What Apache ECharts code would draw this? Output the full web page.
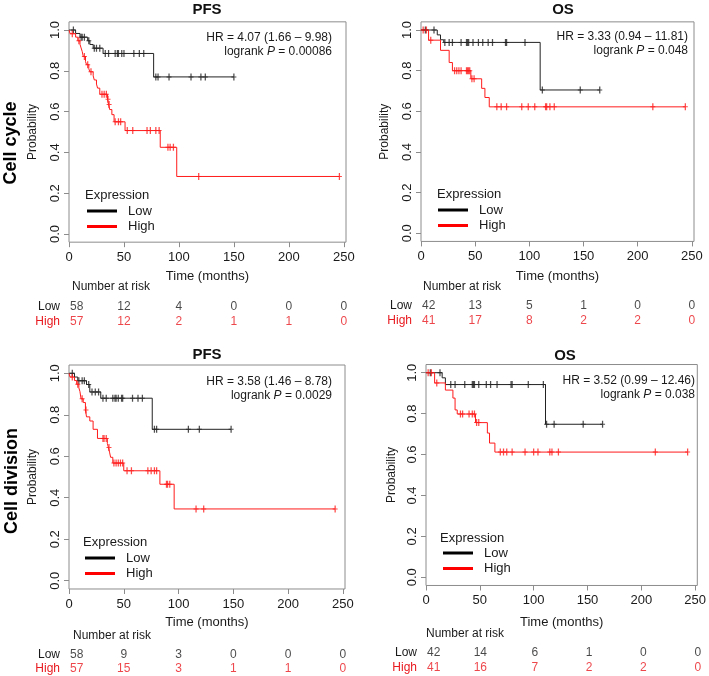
<!DOCTYPE html>
<html><head><meta charset="utf-8">
<script src="https://cdn.jsdelivr.net/npm/echarts@6/dist/echarts.min.js"></script>
<style>html,body{margin:0;padding:0;background:#fff}#c{width:709px;height:676px}</style>
</head><body><div id="c"></div>
<script>
// ---------------- DATA ----------------
const xTicks = [0, 50, 100, 150, 200, 250];
const yTicks = [0, 0.2, 0.4, 0.6, 0.8, 1.0];
const riskTimes = [0, 50, 100, 150, 200, 250];
const rowLabels = ['Cell cycle', 'Cell division'];
const panelTitles = ['PFS', 'OS', 'PFS', 'OS'];
const hrTexts = ['HR = 4.07 (1.66 \u2013 9.98)', 'HR = 3.33 (0.94 \u2013 11.81)', 'HR = 3.58 (1.46 \u2013 8.78)', 'HR = 3.52 (0.99 \u2013 12.46)'];
const pTexts = ['0.00086', '0.048', '0.0029', '0.038'];

// Panel 1: Cell cycle PFS
const lowSteps1 = [[0,1],[6,0.983],[10,0.965],[17,0.947],[19,0.929],[22,0.911],[31,0.885],[77,0.77],[150,0.77]];
const lowCens1 = [[4,1],[11,0.965],[12,0.965],[14,0.965],[18,0.947],[23,0.911],[25,0.911],[28,0.911],[33,0.885],[36,0.885],[42,0.885],[44,0.885],[45,0.885],[48,0.885],[50,0.885],[59,0.885],[64,0.885],[68,0.885],[79,0.77],[81,0.77],[91,0.77],[111,0.77],[120,0.77],[124,0.77],[150,0.77]];
const highSteps1 = [[0,1],[1,0.982],[6,0.965],[8,0.947],[10,0.93],[11,0.912],[12,0.895],[13,0.87],[15,0.845],[16,0.83],[18,0.81],[19,0.795],[22,0.775],[23,0.755],[25,0.735],[26,0.715],[28,0.685],[35,0.66],[36,0.635],[37,0.61],[39,0.585],[41,0.55],[51,0.507],[83,0.425],[98,0.282],[246,0.282]];
const highCens1 = [[3,0.982],[9,0.947],[14,0.87],[17,0.83],[20,0.795],[30,0.685],[32,0.685],[34,0.685],[35.5,0.66],[36.5,0.635],[42,0.55],[45,0.55],[47,0.55],[53,0.507],[58,0.507],[71,0.507],[74,0.507],[79,0.507],[82,0.507],[90,0.425],[92,0.425],[95,0.425],[118,0.282],[246,0.282]];
const riskLow1 = [58, 12, 4, 0, 0, 0];
const riskHigh1 = [57, 12, 2, 1, 1, 0];

// Panel 2: Cell cycle OS
const lowSteps2 = [[0,1],[15,0.976],[18,0.952],[21,0.939],[110,0.705],[165,0.705]];
const lowCens2 = [[4,1],[12,1],[22,0.939],[26,0.939],[29,0.939],[37,0.939],[42,0.939],[43,0.939],[44,0.939],[48,0.939],[53,0.939],[57,0.939],[62,0.939],[66,0.939],[78,0.939],[79,0.939],[96,0.939],[112,0.705],[147,0.705],[165,0.705]];
const highSteps2 = [[0,1],[7,0.95],[18,0.9],[26,0.84],[29,0.8],[46,0.76],[56,0.713],[59,0.668],[63,0.622],[244,0.622]];
const highCens2 = [[2,1],[5,1],[9,0.95],[31,0.8],[33,0.8],[35,0.8],[37,0.8],[42,0.8],[43,0.8],[44,0.8],[45,0.8],[47,0.76],[49,0.76],[70,0.622],[74,0.622],[79,0.622],[93,0.622],[99,0.622],[105,0.622],[115,0.622],[116,0.622],[119,0.622],[123,0.622],[214,0.622],[244,0.622]];
const riskLow2 = [42, 13, 5, 1, 0, 0];
const riskHigh2 = [41, 17, 8, 2, 2, 0];

// Panel 3: Cell division PFS
const lowSteps3 = [[0,1],[5,0.982],[8,0.964],[16,0.946],[19,0.91],[29,0.88],[76,0.73],[148,0.73]];
const lowCens3 = [[3,1],[9,0.964],[12,0.964],[14,0.964],[18,0.946],[21,0.91],[24,0.91],[27,0.91],[31,0.88],[34,0.88],[40,0.88],[42,0.88],[43,0.88],[45,0.88],[48,0.88],[49,0.88],[58,0.88],[63,0.88],[67,0.88],[78,0.73],[80,0.73],[109,0.73],[119,0.73],[148,0.73]];
const highSteps3 = [[0,1],[1,0.982],[5,0.965],[7,0.947],[9,0.93],[10,0.912],[11,0.877],[13,0.859],[15,0.823],[16,0.79],[19,0.77],[22,0.73],[26,0.686],[35,0.662],[36,0.642],[37,0.62],[38,0.595],[40,0.567],[50,0.53],[83,0.465],[96,0.346],[243,0.346]];
const highCens3 = [[3,0.982],[8,0.947],[12,0.877],[15.5,0.823],[31,0.686],[32,0.686],[34,0.686],[36.5,0.642],[41,0.567],[43,0.567],[45,0.567],[47,0.567],[49,0.567],[53,0.53],[57,0.53],[72,0.53],[75,0.53],[78,0.53],[80,0.53],[89,0.465],[90,0.465],[92,0.465],[116,0.346],[123,0.346],[243,0.346]];
const riskLow3 = [58, 9, 3, 0, 0, 0];
const riskHigh3 = [57, 15, 3, 1, 1, 0];

// Panel 4: Cell division OS
const lowSteps4 = [[0,1],[15,0.975],[18,0.942],[111,0.748],[164,0.748]];
const lowCens4 = [[4,1],[13,1],[23,0.942],[27,0.942],[36,0.942],[43,0.942],[44,0.942],[45,0.942],[49,0.942],[56,0.942],[60,0.942],[66,0.942],[79,0.942],[80,0.942],[95,0.942],[109,0.942],[112,0.748],[119,0.748],[146,0.748],[164,0.748]];
const highSteps4 = [[0,1],[8,0.95],[18,0.915],[25,0.876],[27,0.818],[29,0.798],[46,0.756],[57,0.705],[59,0.656],[64,0.612],[243,0.612]];
const highCens4 = [[2,1],[5,1],[10,0.95],[32,0.798],[34,0.798],[40,0.798],[43,0.798],[45,0.798],[47,0.756],[49,0.756],[69,0.612],[72,0.612],[75,0.612],[80,0.612],[92,0.612],[100,0.612],[104,0.612],[115,0.612],[117,0.612],[123,0.612],[213,0.612],[243,0.612]];
const riskLow4 = [42, 14, 6, 1, 0, 0];
const riskHigh4 = [41, 16, 7, 2, 2, 0];

// ---------------- LAYOUT / STYLE ----------------
const FONT = '"Liberation Sans", Arial, Helvetica, sans-serif';
const XMAX = 252;
const BLACK = '#222';
const RED = '#ff1a1a';
const RED_TXT = '#e8191f';
const TXT = '#1a1a1a';
const BOX = '#8c8c8c';
const PLUS = 'path://M2,0H3V3H4.5V4H3V7H2V4H0.5V3H2Z';

const layout = [
  {left:69, width:277, y1:30, y0:234, xNameGap:28, yNameGap:30, titleX:207, titleY:10, hrRight:332, hrY:38, legendX:87, legendY:204, exprX:85, exprY:195, narX:72, narY:287, lowY:307},
  {left:421, width:273, y1:30, y0:233.3, xNameGap:28, yNameGap:30, titleX:563, titleY:10, hrRight:688, hrY:37, legendX:438, legendY:203, exprX:437, exprY:194, narX:423, narY:287, lowY:306},
  {left:69, width:276, y1:373.3, y0:580.7, xNameGap:27, yNameGap:30, titleX:207, titleY:355, hrRight:332, hrY:382, legendX:85, legendY:551, exprX:83, exprY:542, narX:73, narY:636, lowY:655},
  {left:426, width:274, y1:372.7, y0:577.3, xNameGap:30, yNameGap:28, titleX:565, titleY:356, hrRight:695, hrY:381, legendX:443, legendY:546, exprX:440, exprY:538, narX:426, narY:634, lowY:653}
];
const rowLabelPos = [{x:11, y:143}, {x:12, y:481}];

const curves = [
  {low:lowSteps1, lowC:lowCens1, high:highSteps1, highC:highCens1, rl:riskLow1, rh:riskHigh1},
  {low:lowSteps2, lowC:lowCens2, high:highSteps2, highC:highCens2, rl:riskLow2, rh:riskHigh2},
  {low:lowSteps3, lowC:lowCens3, high:highSteps3, highC:highCens3, rl:riskLow3, rh:riskHigh3},
  {low:lowSteps4, lowC:lowCens4, high:highSteps4, highC:highCens4, rl:riskLow4, rh:riskHigh4}
];

const grids = [], xAxes = [], yAxes = [], series = [], legends = [], graphics = [];

layout.forEach((p, i) => {
  const u = p.y0 - p.y1;
  const top = p.y1 - 0.04 * u;
  const h = u * 1.08;
  const gi = 2 * i, ri = 2 * i + 1;
  grids.push({left:p.left, top:top, width:p.width, height:h, show:true, borderColor:BOX, borderWidth:1, backgroundColor:'transparent'});
  grids.push({left:p.left, top:p.lowY - 7.25, width:p.width, height:29, show:false});

  xAxes.push({
    gridIndex:gi, type:'value', min:0, max:XMAX, position:'bottom',
    axisLine:{show:false, onZero:false}, splitLine:{show:false},
    axisTick:{show:true, length:5, lineStyle:{color:BOX}, customValues:xTicks},
    axisLabel:{customValues:xTicks, margin:8.5, fontSize:13, color:TXT, fontFamily:FONT},
    name:'Time (months)', nameLocation:'middle', nameGap:p.xNameGap,
    nameTextStyle:{fontSize:13, color:TXT, fontFamily:FONT}
  });
  xAxes.push({gridIndex:ri, type:'value', min:0, max:XMAX, show:false});

  yAxes.push({
    gridIndex:gi, type:'value', min:-0.04, max:1.04, position:'left',
    axisLine:{show:false, onZero:false}, splitLine:{show:false},
    axisTick:{show:true, length:5, lineStyle:{color:BOX}, customValues:yTicks},
    axisLabel:{customValues:yTicks, rotate:90, margin:7, fontSize:13, color:TXT, fontFamily:FONT, formatter:v => Number(v).toFixed(1)},
    name:'Probability', nameLocation:'middle', nameRotate:90, nameGap:p.yNameGap,
    nameTextStyle:{fontSize:12, color:TXT, fontFamily:FONT}
  });
  yAxes.push({
    gridIndex:ri, type:'category', data:['Low','High'], inverse:true,
    axisLine:{show:false}, axisTick:{show:false}, splitLine:{show:false},
    axisLabel:{interval:0, margin:9, formatter:v => v === 'Low' ? '{l|Low}' : '{h|High}',
      rich:{l:{color:TXT, fontSize:12, fontFamily:FONT}, h:{color:RED_TXT, fontSize:12, fontFamily:FONT}}}
  });

  const c = curves[i];
  series.push({type:'line', name:'Low', xAxisIndex:gi, yAxisIndex:gi, data:c.low, step:'end', symbol:'none', showSymbol:false,
    lineStyle:{color:BLACK, width:1}, itemStyle:{color:'#000'}, silent:true, animation:false});
  series.push({type:'line', name:'High', xAxisIndex:gi, yAxisIndex:gi, data:c.high, step:'end', symbol:'none', showSymbol:false,
    lineStyle:{color:RED, width:1}, itemStyle:{color:'#ff0000'}, silent:true, animation:false});
  series.push({type:'scatter', name:'Low censored ' + i, xAxisIndex:gi, yAxisIndex:gi, data:c.lowC, symbol:PLUS, symbolSize:[5,7],
    itemStyle:{color:BLACK}, silent:true, animation:false});
  series.push({type:'scatter', name:'High censored ' + i, xAxisIndex:gi, yAxisIndex:gi, data:c.highC, symbol:PLUS, symbolSize:[5,7],
    itemStyle:{color:RED}, silent:true, animation:false});

  const mk = (arr, row) => arr.map((n, k) => ({value:[riskTimes[k], row, n], label: k === 0 ? {align:'left', offset:[1,0]} : {}}));
  [['Low', c.rl, TXT], ['High', c.rh, RED_TXT]].forEach(([row, arr, col]) => {
    series.push({type:'scatter', name:'risk ' + row + ' ' + i, xAxisIndex:ri, yAxisIndex:ri, data:mk(arr, row), symbolSize:1,
      itemStyle:{color:'rgba(0,0,0,0)'}, silent:true, animation:false,
      label:{show:true, position:'inside', formatter:q => String(q.value[2]), color:col, fontSize:12, fontFamily:FONT}});
  });

  legends.push({
    data:['Low','High'], orient:'vertical', left:p.legendX, top:p.legendY, itemGap:1.5,
    icon:'rect', itemWidth:30, itemHeight:3, selectedMode:false, padding:0,
    textStyle:{fontSize:13, color:TXT, fontFamily:FONT, lineHeight:14, padding:[0,0,0,6]}
  });

  graphics.push({type:'text', x:p.titleX, y:p.titleY, silent:true,
    style:{text:panelTitles[i], font:'bold 15px ' + FONT, fill:'#111', align:'center', verticalAlign:'middle'}});
  graphics.push({type:'text', x:p.hrRight, y:p.hrY, silent:true,
    style:{text:hrTexts[i], font:'12px ' + FONT, fill:TXT, align:'right', verticalAlign:'middle'}});
  graphics.push({type:'text', x:p.hrRight, y:p.hrY + 14, silent:true,
    style:{text:'{n|logrank }{i|P}{n| = ' + pTexts[i] + '}', align:'right', verticalAlign:'middle', fill:TXT,
      rich:{n:{fontSize:12, fontFamily:FONT, fill:TXT}, i:{fontSize:12, fontFamily:FONT, fontStyle:'italic', fill:TXT}}}});
  graphics.push({type:'text', x:p.exprX, y:p.exprY, silent:true,
    style:{text:'Expression', font:'13px ' + FONT, fill:TXT, align:'left', verticalAlign:'middle'}});
  graphics.push({type:'text', x:p.narX, y:p.narY, silent:true,
    style:{text:'Number at risk', font:'12px ' + FONT, fill:TXT, align:'left', verticalAlign:'middle'}});
});

rowLabels.forEach((t, k) => {
  graphics.push({type:'text', x:rowLabelPos[k].x, y:rowLabelPos[k].y, rotation:Math.PI / 2, silent:true,
    style:{text:t, font:'bold 18px ' + FONT, fill:'#000', align:'center', verticalAlign:'middle'}});
});

const chart = echarts.init(document.getElementById('c'), null, {renderer:'canvas'});
chart.setOption({
  backgroundColor:'#fff',
  animation:false,
  textStyle:{fontFamily:FONT},
  grid:grids, xAxis:xAxes, yAxis:yAxes, series:series, legend:legends, graphic:graphics
});
</script>
</body></html>
